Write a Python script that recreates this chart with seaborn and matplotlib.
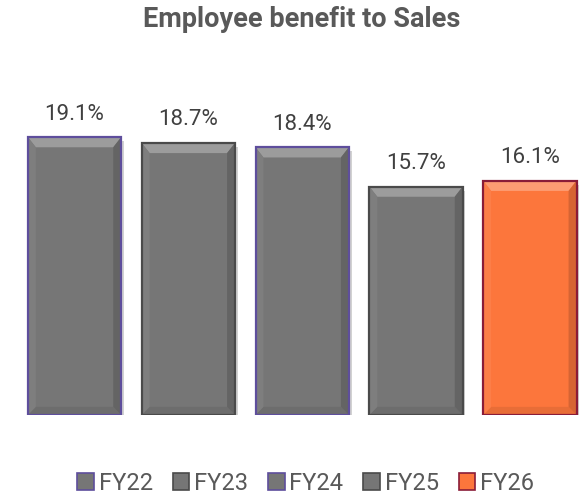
import numpy as np
import pandas as pd
import matplotlib
matplotlib.use("Agg")
import matplotlib.pyplot as plt
import matplotlib.colors as mcolors
from matplotlib.patches import Polygon, Patch, Rectangle
from matplotlib import patheffects as pe
import seaborn as sns

years = ["FY22", "FY23", "FY24", "FY25", "FY26"]
values = [19.1, 18.7, 18.4, 15.7, 16.1]
labels = ["19.1%", "18.7%", "18.4%", "15.7%", "16.1%"]
fill_colors = ["#767676", "#767676", "#767676", "#767676", "#FC763C"]
edge_colors = ["#5E4E9C", "#4A4A4A", "#5E4E9C", "#4A4A4A", "#8A1C38"]


def shade(c, f):
    # lighten (f > 0) or darken (f < 0) a colour
    r = np.array(mcolors.to_rgb(c))
    if f > 0:
        return tuple(r + (1 - r) * f)
    return tuple(r * (1 + f))


sns.set_theme(style="white")
plt.rcParams["font.family"] = ["Roboto", "DejaVu Sans"]

df = pd.DataFrame({"year": years, "value": values})

fig = plt.figure(figsize=(5.79, 4.97), dpi=100)
ax = fig.add_axes([0.0304, 1 - 415 / 497, 0.983, 14.55 * 22 / 497])
sns.barplot(data=df, x="year", y="value", hue="year", palette=fill_colors,
            width=0.82, saturation=1, legend=False, ax=ax)

ax.set_ylim(0, 22)
ax.set_xlim(-0.5, 4.5)
ax.axis("off")

# bevel look on each bar
for bar, ec in zip(ax.patches, edge_colors):
    x0, w, h = bar.get_x(), bar.get_width(), bar.get_height()
    x1 = x0 + w
    bx, by = w * 0.085, 0.7
    fc = bar.get_facecolor()
    bar.set_edgecolor("none")
    bar.set_path_effects([pe.SimplePatchShadow(offset=(2, -3), alpha=0.35, shadow_rgbFace="gray"), pe.Normal()])
    ax.add_patch(Polygon([(x0, h), (x1, h), (x1 - bx, h - by), (x0 + bx, h - by)],
                         fc=shade(fc, 0.28), ec="none", zorder=3))
    ax.add_patch(Polygon([(x0, 0), (x1, 0), (x1 - bx, by * 0.8), (x0 + bx, by * 0.8)],
                         fc=shade(fc, -0.08), ec="none", zorder=3))
    ax.add_patch(Polygon([(x0, 0), (x0, h), (x0 + bx, h - by), (x0 + bx, by * 0.8)],
                         fc=shade(fc, 0.06), ec="none", zorder=3))
    ax.add_patch(Polygon([(x1, 0), (x1, h), (x1 - bx, h - by), (x1 - bx, by * 0.8)],
                         fc=shade(fc, -0.15), ec="none", zorder=3))
    ax.add_patch(Rectangle((x0, 0), w, h, fill=False, ec=ec, lw=1.6, zorder=4))

for cont, lab in zip(ax.containers, labels):
    ax.bar_label(cont, labels=[lab], padding=9, fontsize=16, color="#404040")

fig.text(0.521, 1 - 27 / 497, "Employee benefit to Sales", ha="center", va="baseline",
         fontsize=19.5, fontweight="bold", color="#595959")

handles = [Patch(facecolor=fc, edgecolor=ec, linewidth=1.2) for fc, ec in zip(fill_colors, edge_colors)]
fig.legend(handles, years, loc="center", bbox_to_anchor=(0.528, 0.028), ncol=5, frameon=False,
           handlelength=0.7, handleheight=0.7, handletextpad=0.2, columnspacing=0.85,
           fontsize=17, labelcolor="#595959", borderpad=0)

fig.savefig("out.png", dpi=100)
